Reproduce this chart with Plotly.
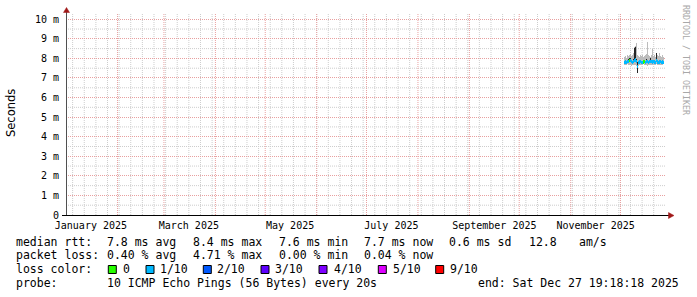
import numpy as np
import pandas as pd
import plotly.graph_objects as go

# ---------------- data ----------------
x_start = "2025-01-01 00:00:00"
x_end = "2025-12-27 19:18:18"
first_bucket = "2025-12-03 13:00:00"
bucket_hours = 14.5
first_sunday = "2025-01-05"

month_label_dates = ["2025-01-16", "2025-03-16", "2025-05-16",
                     "2025-07-16", "2025-09-16", "2025-11-16"]
month_labels = ["January 2025", "March 2025", "May 2025",
                "July 2025", "September 2025", "November 2025"]

y_ticks = [0, 1, 2, 3, 4, 5, 6, 7, 8, 9, 10]
y_tick_labels = ["0", "1 m", "2 m", "3 m", "4 m", "5 m", "6 m", "7 m", "8 m", "9 m", "10 m"]
y_minor = [0.5, 1.5, 2.5, 3.5, 4.5, 5.5, 6.5, 7.5, 8.5, 9.5]

# ping smoke (ms)
max_v = [8.05, 8.10, 8.00, 8.15, 8.10, 8.20, 8.25, 8.10, 8.15, 8.30,
         8.60, 8.65, 8.80, 8.20, 8.10, 8.05, 8.15, 8.10, 8.20, 8.05,
         8.10, 8.15, 8.25, 8.85, 8.20, 8.10, 8.05, 8.15, 8.50, 8.10,
         8.20, 8.05, 8.30, 8.15, 8.10, 8.30, 8.10, 8.05, 8.15, 8.05]
min_v = [7.65, 7.68, 7.66, 7.70, 7.65, 7.64, 7.66, 7.62, 7.65, 7.68,
         7.66, 7.64, 7.60, 7.25, 7.62, 7.66, 7.68, 7.65, 7.66, 7.70,
         7.66, 7.64, 7.68, 7.62, 7.66, 7.68, 7.65, 7.66, 7.64, 7.68,
         7.66, 7.65, 7.70, 7.66, 7.68, 7.64, 7.66, 7.68, 7.66, 7.70]
dark_lo = [7.74, 7.76, 7.74, 7.78, 7.80, 7.80, 7.80, 7.78, 7.76, 7.78,
           7.83, 7.83, 7.78, 7.25, 7.70, 7.76, 7.78, 7.74, 7.74, 7.76,
           7.78, 7.74, 7.80, 7.76, 7.74, 7.78, 7.80, 7.78, 7.76, 7.78,
           7.76, 7.74, 7.85, 7.76, 7.74, 7.76, 7.78, 7.74, 7.76, 7.74]
dark_hi = [7.86, 7.88, 7.84, 7.90, 7.96, 8.00, 8.02, 7.94, 7.88, 7.95,
           8.55, 8.60, 7.98, 7.80, 7.85, 7.92, 7.90, 7.86, 7.84, 7.88,
           7.90, 7.86, 7.96, 7.90, 7.86, 7.92, 8.00, 7.94, 7.90, 7.92,
           7.88, 7.86, 8.30, 7.88, 7.86, 7.90, 7.92, 7.86, 7.88, 7.86]
median = [7.80, 7.82, 7.79, 7.84, 7.86, 7.88, 7.90, 7.84, 7.80, 7.84,
          7.90, 7.92, 7.86, 7.60, 7.78, 7.82, 7.84, 7.80, 7.79, 7.82,
          7.84, 7.80, 7.86, 7.84, 7.80, 7.83, 7.86, 7.84, 7.82, 7.84,
          7.82, 7.80, 7.88, 7.82, 7.80, 7.82, 7.84, 7.80, 7.82, 7.80]
loss_idx = [1, 1, 1, 1, 1, 0, 1, 1, 1, 1,
            1, 1, 1, 1, 1, 1, 1, 1, 1, 0,
            0, 1, 1, 1, 1, 1, 1, 1, 1, 1,
            1, 1, 1, 1, 1, 1, 1, 1, 1, 1]

loss_names = ["0", "1/10", "2/10", "3/10", "4/10", "5/10", "9/10"]
loss_colors = ["#26ff00", "#00b8ff", "#0059ff", "#5e00ff", "#7e00ff", "#dd00ff", "#ff0000"]

stats_rtt = ["7.8 ms avg", "8.4 ms max", "7.6 ms min", "7.7 ms now", "0.6 ms sd", "12.8", "am/s"]
stats_loss = ["0.40 % avg", "4.71 % max", "0.00 % min", "0.04 % now"]
probe_text = "10 ICMP Echo Pings (56 Bytes) every 20s"
end_text = "end: Sat Dec 27 19:18:18 2025"

# ---------------- geometry ----------------
W, H = 697, 297
ML, MR, MT, MB = 66, 32, 13, 82
PW, PH = W - ML - MR, H - MT - MB
Y_TOP = 10.32


def px(x):
    return (x - ML) / PW


def py(y):
    return (MT + PH - y) / PH


times = pd.date_range(first_bucket, periods=len(median), freq=f"{int(bucket_hours*60)}min")
bw = bucket_hours * 3600 * 1000
max_a, min_a = np.array(max_v), np.array(min_v)
dlo, dhi = np.array(dark_lo), np.array(dark_hi)
med = np.array(median)
line_h = 0.16

fig = go.Figure()
fig.add_trace(go.Bar(x=times, y=max_a - min_a, base=min_a, width=bw,
                     marker=dict(color="#bcbcbc", line=dict(width=0)),
                     hoverinfo="skip", showlegend=False))
fig.add_trace(go.Bar(x=times, y=dhi - dlo, base=dlo, width=bw,
                     marker=dict(color="#262626", line=dict(width=0)),
                     hoverinfo="skip", showlegend=False))
fig.add_trace(go.Bar(x=times, y=[line_h] * len(med), base=med - line_h / 2, width=bw,
                     marker=dict(color=[loss_colors[i] for i in loss_idx], line=dict(width=0)),
                     hoverinfo="skip", showlegend=False))

mono = "DejaVu Sans Mono"
red_grid = "#e8a0a0"
gray_grid = "#cdcdcd"
dots = "1px,1px"

fig.update_layout(
    width=W, height=H, autosize=False,
    margin=dict(l=ML, r=MR, t=MT, b=MB, pad=0),
    paper_bgcolor="white", plot_bgcolor="white",
    barmode="overlay", bargap=0,
    showlegend=False,
    xaxis=dict(type="date", range=[x_start, x_end],
               tickmode="array", tickvals=month_label_dates, ticktext=month_labels,
               ticks="", showgrid=False, showline=False, zeroline=False,
               ticklabelstandoff=3,
               tickfont=dict(family=mono, size=10, color="black"),
               fixedrange=True),
    yaxis=dict(range=[0, Y_TOP], tickmode="array", tickvals=y_ticks, ticktext=y_tick_labels,
               showgrid=True, gridcolor=red_grid, griddash=dots, gridwidth=1,
               ticks="", showline=False, zeroline=False,
               ticklabelstandoff=6,
               tickfont=dict(family=mono, size=10, color="black"),
               fixedrange=True),
)

shapes = []
# grid lines: weekly (Sundays) gray, half-ms gray, monthly red
weeks = pd.date_range(first_sunday, x_end, freq="7D")
months = pd.date_range("2025-02-01", x_end, freq="MS")
for d in weeks:
    shapes.append(dict(type="line", xref="x", yref="paper", x0=d, x1=d, y0=0, y1=1,
                       layer="below", line=dict(color=gray_grid, width=1, dash=dots)))
for v in y_minor:
    shapes.append(dict(type="line", xref="paper", yref="y", x0=0, x1=1, y0=v, y1=v,
                       layer="below", line=dict(color=gray_grid, width=1, dash=dots)))
for d in months:
    shapes.append(dict(type="line", xref="x", yref="paper", x0=d, x1=d, y0=0, y1=1,
                       layer="below", line=dict(color=red_grid, width=1, dash=dots)))

# axis lines and arrows
shapes.append(dict(type="line", xref="paper", yref="paper",
                   x0=px(66.5), x1=px(66.5), y0=py(215.5), y1=py(10),
                   line=dict(color="#505050", width=1)))
shapes.append(dict(type="line", xref="paper", yref="paper",
                   x0=px(62), x1=px(669), y0=py(215.5), y1=py(215.5),
                   line=dict(color="black", width=1)))
shapes.append(dict(type="path", xref="paper", yref="paper",
                   path=f"M {px(66.5)},{py(7.5)} L {px(63.5)},{py(12.5)} L {px(69.5)},{py(12.5)} Z",
                   fillcolor="#a01818", line=dict(color="#a01818", width=0.5)))
shapes.append(dict(type="path", xref="paper", yref="paper",
                   path=f"M {px(674)},{py(215.5)} L {px(668.5)},{py(212.5)} L {px(668.5)},{py(218.5)} Z",
                   fillcolor="#a01818", line=dict(color="#a01818", width=0.5)))

ann = []


def txt(x, y, s, size=11.5, color="black", family=mono, anchor="left", angle=0):
    ann.append(dict(x=px(x), y=py(y), xref="paper", yref="paper", text=s,
                    showarrow=False, xanchor=anchor, yanchor="middle",
                    borderpad=0, borderwidth=0, textangle=angle,
                    font=dict(family=family, size=size, color=color)))


row_y = [241.7, 255.2, 269.0, 282.7]
col_x = [107.3, 193.3, 279.3, 365.0, 450.0, 530.0, 579.3]
txt(16, row_y[0], "median rtt:")
for i, s in enumerate(stats_rtt):
    txt(col_x[i] - 0.8, row_y[0], s)
txt(16, row_y[1], "packet loss:")
for i, s in enumerate(stats_loss):
    txt(col_x[i] - 0.8, row_y[1], s)
txt(16, row_y[2], "loss color:")
sq_x = [108.3, 146.0, 203.3, 261.0, 319.0, 378.3, 435.7]
lab_x = [123.3, 160.7, 218.0, 276.0, 334.3, 393.3, 450.7]
for i, name in enumerate(loss_names):
    shapes.append(dict(type="rect", xref="paper", yref="paper",
                       x0=px(sq_x[i]), x1=px(sq_x[i] + 8), y0=py(265.5), y1=py(273.5),
                       fillcolor=loss_colors[i], line=dict(color="black", width=1)))
    txt(lab_x[i] - 0.8, row_y[2], name)
txt(16, row_y[3], "probe:")
txt(106.5, row_y[3], probe_text)
txt(477.5, row_y[3], end_text)

txt(11, 113, "Seconds", size=11.5, family="DejaVu Sans", anchor="center", angle=-90)
txt(686, 60, "RRDTOOL / TOBI OETIKER", size=8.3, color="#a8a8a8", anchor="center", angle=90)

fig.update_layout(shapes=shapes, annotations=ann)

fig.write_html("out.html", config={"displayModeBar": False, "staticPlot": True})
